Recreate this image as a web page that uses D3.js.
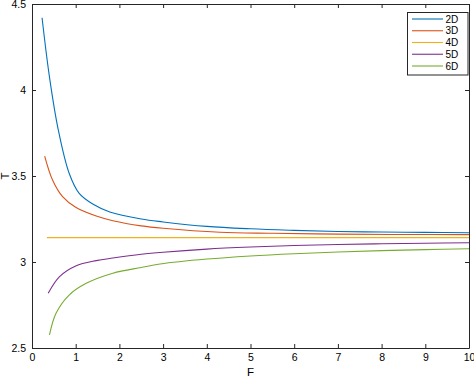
<!DOCTYPE html>
<html>
<head>
<meta charset="utf-8">
<script src="https://cdn.jsdelivr.net/npm/d3@7"></script>
<style>
  body { margin: 0; background: #fff; }
  svg { display: block; font-family: "Liberation Sans", Arial, sans-serif; }
</style>
</head>
<body>
<svg id="chart" width="474" height="377"></svg>
<script>
const seriesNames = ["2D", "3D", "4D", "5D", "6D"];
const seriesColors = ["#0072BD", "#D95319", "#EDB120", "#7E2F8E", "#77AC30"];

const F2 = [0.23, 0.4, 0.6, 0.85, 1.08, 1.39, 1.78, 2.5, 3, 4, 5, 6, 7, 8, 9, 10];
const T2 = [4.42, 4.075, 3.77, 3.516, 3.399, 3.337, 3.291, 3.25, 3.233, 3.207, 3.193, 3.184, 3.177, 3.174, 3.172, 3.170];

const F3 = [0.29, 0.47, 0.7, 1.0, 1.47, 1.85, 2.5, 3, 4.3, 5.5, 7, 8.5, 10];
const T3 = [3.616, 3.477, 3.38, 3.318, 3.267, 3.24, 3.21, 3.196, 3.173, 3.167, 3.162, 3.16, 3.159];

const F4 = [0.34, 10];
const T4 = [3.1416, 3.1416];

const F5 = [0.37, 0.63, 1.0, 1.47, 1.85, 2.5, 3, 4, 5, 6, 7, 8, 9, 10];
const T5 = [2.818, 2.915, 2.977, 3.008, 3.023, 3.045, 3.057, 3.075, 3.087, 3.096, 3.102, 3.106, 3.109, 3.112];

const F6 = [0.4, 0.55, 0.85, 1.24, 1.85, 2.5, 2.93, 4, 5, 6, 7, 8, 9, 10];
const T6 = [2.576, 2.702, 2.808, 2.876, 2.935, 2.968, 2.988, 3.017, 3.035, 3.048, 3.058, 3.066, 3.072, 3.077];

const xTicks = [0, 1, 2, 3, 4, 5, 6, 7, 8, 9, 10];
const yTicks = [2.5, 3, 3.5, 4, 4.5];
const xLabel = "F";
const yLabel = "T";

const seriesF = [F2, F3, F4, F5, F6];
const seriesT = [T2, T3, T4, T5, T6];

const svg = d3.select("#chart");
const L = 32, R = 469, Tp = 4, B = 348;
const x = d3.scaleLinear().domain([0, 10]).range([L, R]);
const y = d3.scaleLinear().domain([2.5, 4.5]).range([B, Tp]);
const axisColor = "#262626";

svg.append("rect").attr("x", 0).attr("y", 0).attr("width", 474).attr("height", 377).attr("fill", "#fff");

// series
const line = d3.line().x(d => x(d[0])).y(d => y(d[1])).curve(d3.curveCatmullRom.alpha(0.5));
seriesNames.forEach((name, i) => {
  const pts = seriesF[i].map((f, j) => [f, seriesT[i][j]]);
  svg.append("path").datum(pts)
    .attr("d", line)
    .attr("fill", "none")
    .attr("stroke", seriesColors[i])
    .attr("stroke-width", 1.1);
});

// axes
function styleAxis(g) {
  g.select(".domain").attr("stroke", axisColor).attr("stroke-width", 1);
  g.selectAll(".tick line").attr("stroke", axisColor);
  g.selectAll(".tick text").attr("fill", "#000").attr("font-size", 10.5)
    .attr("font-family", "'Liberation Sans', Arial, sans-serif");
}
const fmt = d3.format("");
svg.append("g").attr("transform", `translate(0,${B})`)
  .call(d3.axisBottom(x).tickValues(xTicks).tickFormat(fmt).tickSizeInner(-4).tickSizeOuter(0).tickPadding(6))
  .call(styleAxis);
svg.append("g").attr("transform", `translate(0,${Tp})`)
  .call(d3.axisTop(x).tickValues(xTicks).tickFormat("").tickSizeInner(-4).tickSizeOuter(0))
  .call(styleAxis);
svg.append("g").attr("transform", `translate(${L},0)`)
  .call(d3.axisLeft(y).tickValues(yTicks).tickFormat(fmt).tickSizeInner(-4).tickSizeOuter(0).tickPadding(6))
  .call(styleAxis);
svg.append("g").attr("transform", `translate(${R},0)`)
  .call(d3.axisRight(y).tickValues(yTicks).tickFormat("").tickSizeInner(-4).tickSizeOuter(0))
  .call(styleAxis);

// axis labels
svg.append("text").attr("x", (L + R) / 2).attr("y", 376)
  .attr("text-anchor", "middle").attr("font-size", 11.5).attr("fill", "#000").text(xLabel);
svg.append("text").attr("transform", `translate(9,${(Tp + B) / 2}) rotate(-90)`)
  .attr("text-anchor", "middle").attr("font-size", 11.5).attr("fill", "#000").text(yLabel);

// legend
const lg = svg.append("g");
lg.append("rect").attr("x", 407.5).attr("y", 12.5).attr("width", 60.5).attr("height", 62.5)
  .attr("fill", "#fff").attr("stroke", axisColor).attr("stroke-width", 1);
seriesNames.forEach((name, i) => {
  const yy = 19 + i * 11.75;
  lg.append("line").attr("x1", 412).attr("x2", 443).attr("y1", yy).attr("y2", yy)
    .attr("stroke", seriesColors[i]).attr("stroke-width", 1.1);
  lg.append("text").attr("x", 445.5).attr("y", yy).attr("dy", "0.35em")
    .attr("font-size", 10).attr("fill", "#000").text(name);
});
</script>
</body>
</html>
